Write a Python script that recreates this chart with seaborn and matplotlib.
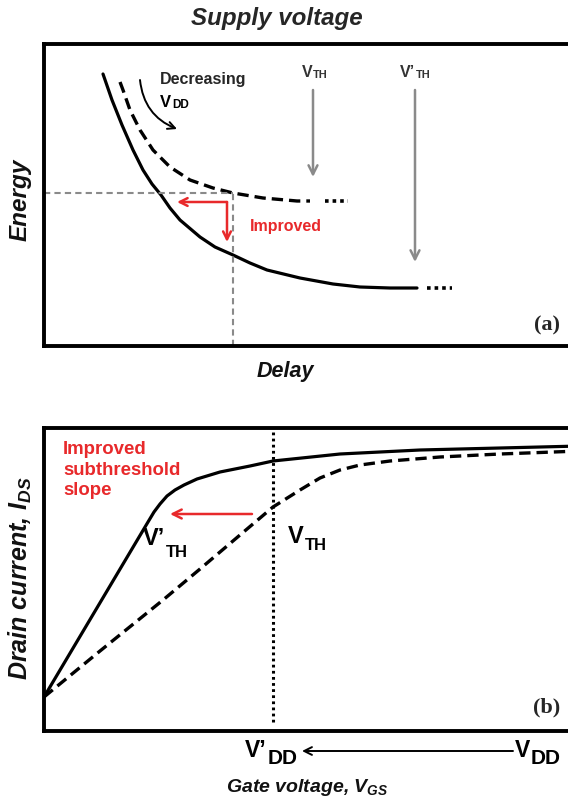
import matplotlib
matplotlib.use("Agg")
import matplotlib.pyplot as plt
import seaborn as sns

sns.set_style("white")
plt.rcParams["font.family"] = ["Liberation Sans", "DejaVu Sans"]
plt.rcParams["mathtext.fontset"] = "custom"
plt.rcParams["mathtext.rm"] = "Liberation Sans:bold"
plt.rcParams["mathtext.bf"] = "Liberation Sans:bold"
plt.rcParams["mathtext.it"] = "Liberation Sans:bold:italic"

# ---- (a) energy vs delay (arbitrary units) ----
delay_vth_new = [59, 68, 78, 89, 99, 108, 117, 126, 136, 156, 171, 189, 206, 223, 256, 289, 316, 346, 373]
energy_vth_new = [272, 246, 221, 196, 176, 162, 151, 138, 126, 109, 99, 91, 83, 76, 68, 62, 59, 58, 58]
delay_vth_old = [76, 79, 86, 96, 109, 126, 146, 169, 189, 219, 253, 266]
energy_vth_old = [264, 256, 236, 216, 196, 179, 166, 158, 153, 148, 145, 145]
tail_new_x, tail_new_y = [383, 408], [58, 58]
tail_old_x, tail_old_y = [281, 304], [145, 145]
ref_delay, ref_energy = 189, 153          # operating point on the original curve
improved_corner = (183, 144)
improved_left_x, improved_down_y = 133, 104
vth_arrow_x, vth_arrow_y = 269, (256, 169)
vth_new_arrow_x, vth_new_arrow_y = 371, (256, 84)

# ---- (b) drain current vs gate voltage (arbitrary units) ----
vgs_new = [0, 104, 110, 116, 123, 131, 140, 153, 176, 206, 229, 296, 376, 456, 536]
ids_new = [34, 209, 219, 227, 235, 241, 246, 252, 259, 265, 270, 277, 281, 283, 285]
vgs_old = [0, 56, 119, 156, 196, 229, 256, 276, 296, 316, 346, 396, 456, 536]
ids_old = [34, 80, 131, 162, 196, 224, 241, 253, 261, 266, 270, 274, 277, 280]
vth_gate = 229
vth_shift = (208, 126, 217)
vdd_old, vdd_new = 469, 258

fig = plt.figure(figsize=(5.68, 7.98), dpi=100)
W, H = 568, 798
ax_a = fig.add_axes([44 / W, 1 - 346 / H, 536 / W, 302 / H])
ax_b = fig.add_axes([44 / W, 1 - 731 / H, 536 / W, 303 / H])

for ax, ymax in ((ax_a, 302), (ax_b, 303)):
    ax.set_xlim(0, 536)
    ax.set_ylim(0, ymax)
    ax.set_xticks([])
    ax.set_yticks([])
    for s in ax.spines.values():
        s.set_linewidth(2.8)
        s.set_color("black")
    ax.set_facecolor("white")

label_kw = dict(fontweight="bold", fontstyle="italic", color="#111111", visible=True)


def subscripted(ax, x, y, main, sub, size, subsize, shift, color="black"):
    """Bold symbol with a subscript placed right after it."""
    t = ax.text(x, y, main, fontsize=size, fontweight="bold", va="baseline", color=color,
                clip_on=False)
    ax.annotate(sub, xy=(1, 0), xycoords=t, xytext=(0.5, shift), textcoords="offset points",
                fontsize=subsize, fontweight="bold", va="baseline", ha="left", color=color,
                annotation_clip=False)
    return t


# ---- panel (a) ----
sns.lineplot(x=delay_vth_new, y=energy_vth_new, ax=ax_a, sort=False, estimator=None,
             color="black", lw=2.3)
sns.lineplot(x=delay_vth_old, y=energy_vth_old, ax=ax_a, sort=False, estimator=None,
             color="black", lw=2.4, linestyle=(0, (3.4, 1.8)))
for tx, ty in ((tail_new_x, tail_new_y), (tail_old_x, tail_old_y)):
    ax_a.plot(tx, ty, color="black", lw=2.6, linestyle=(0, (1, 1.1)), dash_capstyle="butt")

gray = "#8a8a8a"
ax_a.plot([0, ref_delay], [ref_energy, ref_energy], color=gray, lw=1.5, linestyle=(0, (3, 2)))
ax_a.plot([ref_delay, ref_delay], [0, ref_energy], color=gray, lw=1.5, linestyle=(0, (3, 2)))

red = "#e8292b"
arrow_red = dict(arrowstyle="->", color=red, lw=1.8, mutation_scale=14, shrinkA=0, shrinkB=0)
ax_a.annotate("", xy=(improved_left_x, improved_corner[1]), xytext=improved_corner,
              arrowprops=arrow_red)
ax_a.annotate("", xy=(improved_corner[0], improved_down_y), xytext=improved_corner,
              arrowprops=arrow_red)
ax_a.text(206, 119, "Improved", color=red, fontsize=11.5, fontweight="bold", va="center")

ax_a.annotate("", xy=(133, 217), xytext=(96, 266),
              arrowprops=dict(arrowstyle="->", color="black", lw=1.4, mutation_scale=13,
                              shrinkA=0, shrinkB=0, connectionstyle="arc3,rad=0.3"))
ax_a.text(116, 266, "Decreasing", fontsize=11.5, fontweight="bold", va="center")
subscripted(ax_a, 116, 239, "V", "DD", 12, 8.5, 1.5)

arrow_gray = dict(arrowstyle="->", color=gray, lw=1.8, mutation_scale=16, shrinkA=0, shrinkB=0)
ax_a.annotate("", xy=(vth_arrow_x, vth_arrow_y[1]), xytext=(vth_arrow_x, vth_arrow_y[0]),
              arrowprops=arrow_gray)
ax_a.annotate("", xy=(vth_new_arrow_x, vth_new_arrow_y[1]),
              xytext=(vth_new_arrow_x, vth_new_arrow_y[0]), arrowprops=arrow_gray)
subscripted(ax_a, 258, 269, "V", "TH", 11.5, 8, 1.2, color="#333333")
subscripted(ax_a, 356, 269, "V\u2019", "TH", 11.5, 8, 1.2, color="#333333")
ax_a.text(516, 16, "(a)", fontsize=16, fontweight="bold", family="Liberation Serif",
          ha="right", va="baseline")

fig.text(277 / W, 1 - 18 / H, "Supply voltage", fontsize=17.4, fontweight="bold",
         fontstyle="italic", ha="center", va="center")
ax_a.set_ylabel("Energy", fontsize=17.5, va="center", **label_kw)
ax_a.yaxis.set_label_coords(-24 / 536, 146 / 302)
ax_a.set_xlabel("Delay", fontsize=15.5, va="center", **label_kw)
ax_a.xaxis.set_label_coords(241 / 536, -26 / 302)

# ---- panel (b) ----
sns.lineplot(x=vgs_new, y=ids_new, ax=ax_b, sort=False, estimator=None, color="black", lw=2.3)
sns.lineplot(x=vgs_old, y=ids_old, ax=ax_b, sort=False, estimator=None, color="black",
             lw=2.4, linestyle=(0, (3.4, 1.8)))
ax_b.plot([vth_gate, vth_gate], [9, 299], color="black", lw=2.2, linestyle=(0, (0.9, 1.1)))

ax_b.annotate("", xy=(vth_shift[1], vth_shift[2]), xytext=(vth_shift[0], vth_shift[2]),
              arrowprops=dict(arrowstyle="->", color=red, lw=1.8, mutation_scale=16,
                              shrinkA=0, shrinkB=0))
ax_b.text(19, 290, "Improved\nsubthreshold\nslope", color=red, fontsize=13.4,
          fontweight="bold", va="top", linespacing=1.28)
subscripted(ax_b, 99, 186, "V\u2019", "TH", 17, 12, -4.8)
subscripted(ax_b, 244, 188, "V", "TH", 17, 12, -1.5)
ax_b.text(516, 19, "(b)", fontsize=16, fontweight="bold", family="Liberation Serif",
          ha="right", va="baseline")

ax_b.annotate("", xy=(vdd_new, -20), xytext=(vdd_old, -20), annotation_clip=False,
              arrowprops=dict(arrowstyle="->", color="black", lw=1.4, mutation_scale=14,
                              shrinkA=0, shrinkB=0))
subscripted(ax_b, vdd_new - 57, -26, "V\u2019", "DD", 16.5, 15, -1.6)
subscripted(ax_b, vdd_old + 2, -26, "V", "DD", 16.5, 15, -1.6)

ax_b.set_xlabel(r"Gate voltage, $\mathit{V_{GS}}$", fontsize=14, va="center", **label_kw)
ax_b.xaxis.set_label_coords(263 / 536, -56 / 303)
ax_b.set_ylabel(r"Drain current, $\mathit{I_{DS}}$", fontsize=18, va="center", **label_kw)
ax_b.yaxis.set_label_coords(-24 / 536, 153 / 303)

fig.savefig("out.png", dpi=100, facecolor="white")
